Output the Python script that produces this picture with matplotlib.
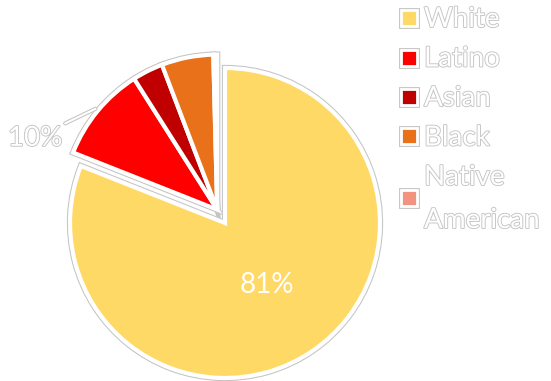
import numpy as np
import matplotlib.pyplot as plt
import matplotlib.patheffects as pe
from matplotlib.patches import Rectangle

groups = ['White', 'Latino', 'Asian', 'Black', 'Native\nAmerican']
shares = [81, 10, 3.2, 5.4, 0.4]
colors = ['#FFD966', '#FF0000', '#C00000', '#E8711A', '#F2937F']
shown_pct = {0: '81%', 1: '10%'}

W, H = 551, 381
outline = '#C4C4C4'
plt.rcParams['font.family'] = ['Lato', 'DejaVu Sans']

fig = plt.figure(figsize=(W / 100, H / 100), dpi=100)
ax = fig.add_axes([0, 0, 1, 1])

# gray rim underneath, white-edged wedges on top -> white border with gray line outside
under, _ = ax.pie(shares, colors=colors, startangle=90, counterclock=False,
                  wedgeprops=dict(edgecolor=outline, linewidth=4.5))
over, _ = ax.pie(shares, colors=colors, startangle=90, counterclock=False,
                 wedgeprops=dict(edgecolor='white', linewidth=3))

# pull the minority slices out together as one block
grp = over[1:]
lo = min(w.theta1 for w in grp)
hi = max(w.theta2 for w in grp)
mid = np.deg2rad((lo + hi) / 2 - 4)
shift = (0.1 * np.cos(mid), 0.1 * np.sin(mid))
for w in under[1:] + over[1:]:
    w.set_center(shift)

# inside label for the big slice
w0 = over[0]
a0 = np.deg2rad((w0.theta1 + w0.theta2) / 2)
ax.text(0.48 * np.cos(a0), 0.48 * np.sin(a0), shown_pct[0], color='white',
        fontsize=20, ha='center', va='center')

# outside label with leader for Latino
w1 = over[1]
a1 = np.deg2rad((w1.theta1 + w1.theta2) / 2)
cx, cy = w1.center
tip = (cx + 1.02 * np.cos(a1), cy + 1.02 * np.sin(a1))
ax.annotate(shown_pct[1], xy=tip, xytext=(-33, -29), textcoords='offset pixels',
            ha='right', va='center', fontsize=20, color='white',
            path_effects=[pe.withStroke(linewidth=1.3, foreground=outline)],
            arrowprops=dict(arrowstyle='-', color='white', lw=1.5, shrinkA=0, shrinkB=0,
                            path_effects=[pe.Stroke(linewidth=3, foreground=outline), pe.Normal()]))

ax.set_xlim(-225 / 155, (W - 225) / 155)
ax.set_ylim(-(H - 223) / 155, 223 / 155)
ax.axis('off')

# legend, drawn by hand in pixel positions (baselines from the top)
box = 16
base = 27
for name, c in zip(groups, colors):
    lines = name.split('\n')
    baselines = [base + 43 * k for k in range(len(lines))]
    for txt, b in zip(lines, baselines):
        fig.text(424 / W, 1 - b / H, txt, fontsize=20, color='white', ha='left', va='baseline',
                 path_effects=[pe.withStroke(linewidth=1.3, foreground=outline)])
    yc = np.mean(baselines) - 9
    fig.add_artist(Rectangle(((409 - box / 2) / W, 1 - (yc + box / 2) / H), box / W, box / H,
                             transform=fig.transFigure, facecolor=c, edgecolor='white', lw=2,
                             path_effects=[pe.Stroke(linewidth=3.5, foreground=outline), pe.Normal()]))
    base += 39.5

fig.savefig('out.png', dpi=100)
